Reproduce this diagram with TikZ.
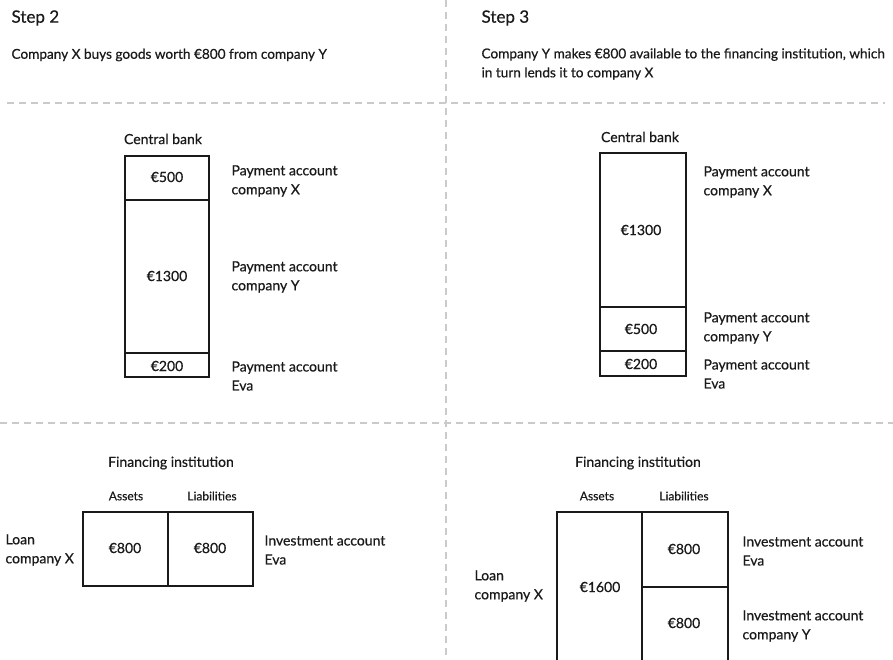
\documentclass[tikz,border=0pt]{standalone}
\usepackage{fontspec}
\setmainfont{Lato}[FakeBold=0.6]
\usepackage{xcolor}
\definecolor{GuideGrey}{HTML}{CACACA}
\definecolor{InkBlack}{HTML}{1A1A1A}

\tikzset{
  guide/.style={GuideGrey,line width=1.4pt,dash pattern=on 7pt off 5pt},
  ledger/.style={InkBlack,line width=1.4pt},
  stephead/.style={anchor=west,font=\fontsize{17}{20}\selectfont},
  intro/.style={anchor=west,align=left,font=\fontsize{13.6}{19}\selectfont},
  acct/.style={anchor=west,align=left,font=\fontsize{14}{19}\selectfont},
  amount/.style={font=\fontsize{14}{16}\selectfont},
  colhead/.style={font=\fontsize{12}{14}\selectfont},
}

\begin{document}
\begin{tikzpicture}[x=1pt,y=-1pt,text=InkBlack]
\path[use as bounding box] (0,0) rectangle (893,660);
% panel guides
\draw[guide] (446,0) -- (446,660);
\draw[guide] (7,103) -- (885,103);
\draw[guide] (0,423) -- (893,423);

% step 2 heading
\node[stephead] (s2) at (8,18) {Step 2};
\node[intro] (s2txt) at (8,55) {Company X buys goods worth €800 from company Y};

% step 3 heading
\node[stephead] (s3) at (478,18) {Step 3};
\node[intro] (s3txt) at (478,64) {Company Y makes €800 available to the financing institution, which\\in turn lends it to company X};

% central bank, step 2
\node[amount] (cb2) at (163,139) {Central bank};
\draw[ledger] (125,156) rectangle (209,377);
\draw[ledger] (125,200) -- (209,200);
\draw[ledger] (125,353) -- (209,353);
\node[amount] (cb2x) at (167,177) {€500};
\node[amount] (cb2y) at (167,276) {€1300};
\node[amount] (cb2e) at (167,366) {€200};
\node[acct] (cb2xl) at (228,181) {Payment account\\company X};
\node[acct] (cb2yl) at (228,277) {Payment account\\company Y};
\node[acct] (cb2el) at (228,376) {Payment account\\Eva};

% central bank, step 3
\node[amount] (cb3) at (640,137) {Central bank};
\draw[ledger] (600,153) rectangle (686,376);
\draw[ledger] (600,307) -- (686,307);
\draw[ledger] (600,351) -- (686,351);
\node[amount] (cb3x) at (641,230) {€1300};
\node[amount] (cb3y) at (641,329) {€500};
\node[amount] (cb3e) at (641,364) {€200};
\node[acct] (cb3xl) at (700,182) {Payment account\\company X};
\node[acct] (cb3yl) at (700,328) {Payment account\\company Y};
\node[acct] (cb3el) at (700,374) {Payment account\\Eva};

% financing institution, step 2
\node[amount] (fi2) at (171,463) {Financing institution};
\node[colhead] (fi2a) at (126,496) {Assets};
\node[colhead] (fi2l) at (212,496) {Liabilities};
\draw[ledger] (83,512) rectangle (253,586);
\draw[ledger] (168,512) -- (168,586);
\node[amount] (fi2loan) at (125,548) {€800};
\node[amount] (fi2inv) at (210,548) {€800};
\node[acct] (fi2ll) at (2,550) {Loan\\company X};
\node[acct] (fi2il) at (261,550) {Investment account\\Eva};

% financing institution, step 3
\node[amount] (fi3) at (638,463) {Financing institution};
\node[colhead] (fi3a) at (597,496) {Assets};
\node[colhead] (fi3l) at (684,496) {Liabilities};
\draw[ledger] (557,680) -- (557,512) -- (728,512) -- (728,680);
\draw[ledger] (642,512) -- (642,680);
\draw[ledger] (642,587) -- (728,587);
\node[amount] (fi3loan) at (600,587) {€1600};
\node[amount] (fi3inve) at (684,549) {€800};
\node[amount] (fi3invy) at (684,623) {€800};
\node[acct] (fi3ll) at (471,586) {Loan\\company X};
\node[acct] (fi3el) at (739,551) {Investment account\\Eva};
\node[acct] (fi3yl) at (739,626) {Investment account\\company Y};
\end{tikzpicture}
\end{document}
